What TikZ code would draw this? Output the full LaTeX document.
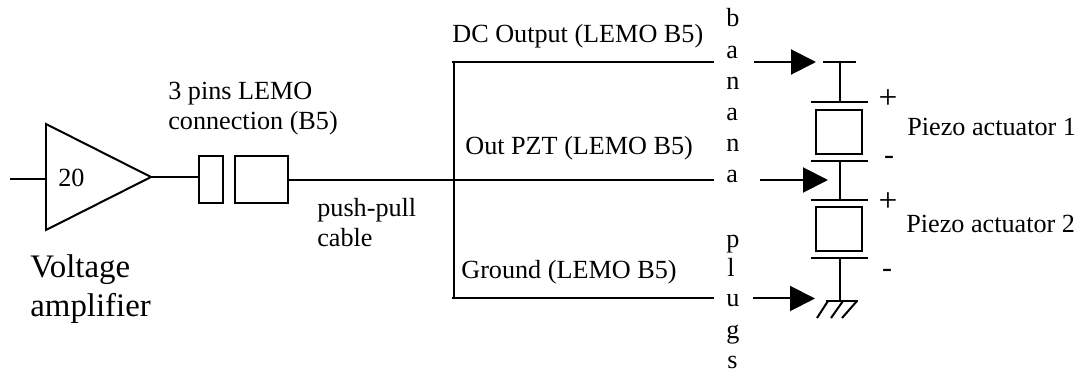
\documentclass[tikz,border=0pt]{standalone}
\usepackage{fontspec}
\setmainfont{Liberation Serif}
\usetikzlibrary{arrows.meta}
\tikzset{
  label/.style={inner sep=0pt,anchor=base west,font=\fontsize{14.9pt}{17.6pt}\selectfont},
  biglabel/.style={inner sep=0pt,anchor=base west,align=left,font=\fontsize{18.7pt}{22.2pt}\selectfont},
  sign/.style={inner sep=0pt,anchor=center,font=\fontsize{19pt}{20pt}\selectfont},
  minussign/.style={inner sep=0pt,anchor=center,font=\fontsize{17pt}{20pt}\selectfont},
  wire/.style={line width=.04cm},
  plug/.style={line width=.04cm,-{Triangle[length=.5cm,width=.5cm]}},
  lemo/.style={draw,line width=.04cm,minimum height=.94cm,inner sep=0pt},
  piezo/.style={draw,line width=.04cm,minimum width=.92cm,minimum height=.88cm,inner sep=0pt}
}
\begin{document}
\begin{tikzpicture}[x=.02cm,y=-.02cm]
\useasboundingbox (0,0) rectangle (1086,371);
% amplifier
\coordinate (in) at (10,179);
\coordinate (intri) at (46,179);
\coordinate (tritop) at (46,124);
\coordinate (tribot) at (46,230);
\coordinate (triout) at (151,177);
\draw[wire] (tritop) -- (triout) -- (tribot) -- cycle;
\draw[wire] (in) -- (intri);
\node[label] (gain) at (58,187) {20};
\node[biglabel] (amplabel) at (30,317) {Voltage\\amplifier};
% connector
\node[lemo,minimum width=.48cm] (lemoa) at (211,179.5) {};
\node[lemo,minimum width=1.06cm] (lemob) at (261.5,179.5) {};
\node[label,align=left] (lemolabel) at (168,130) {3 pins LEMO\\connection (B5)};
\node[label,align=left] (cablelabel) at (317,247) {push-pull\\cable};
\draw[wire] (triout) -- (lemoa.west |- triout);
% bus
\coordinate (bustop) at (454,61);
\coordinate (busmid) at (454,180);
\coordinate (busbot) at (454,299);
\coordinate (starttop) at (452,62);
\coordinate (startbot) at (452,298);
\coordinate (endtop) at (714,62);
\coordinate (endmid) at (714,180);
\coordinate (endbot) at (714,298);
\draw[wire] (lemob.east |- busmid) -- (endmid);
\draw[wire] (bustop) -- (busbot);
\draw[wire] (starttop) -- (endtop);
\draw[wire] (startbot) -- (endbot);
\node[label] (dclabel) at (452,43) {DC Output (LEMO B5)};
\node[label] (outlabel) at (465,155) {Out PZT (LEMO B5)};
\node[label] (gndlabel) at (461,279) {Ground (LEMO B5)};
% banana plugs
\node[label] (b1) at (726,27) {b};
\node[label] (b2) at (726,59) {a};
\node[label] (b3) at (726,90) {n};
\node[label] (b4) at (726,121) {a};
\node[label] (b5) at (726,152) {n};
\node[label] (b6) at (726,183) {a};
\node[label] (b7) at (726,248) {p};
\node[label] (b8) at (727,277) {l};
\node[label] (b9) at (726,307) {u};
\node[label] (b10) at (726,338) {g};
\node[label] (b11) at (727,369) {s};
\coordinate (plugatail) at (754,62);
\coordinate (plugahead) at (816,62);
\coordinate (plugbtail) at (760,180);
\coordinate (plugbhead) at (828,180);
\coordinate (plugctail) at (753,298.5);
\coordinate (plugchead) at (815,298.5);
\draw[plug] (plugatail) -- (plugahead);
\draw[plug] (plugbtail) -- (plugbhead);
\draw[plug] (plugctail) -- (plugchead);
% piezo stack
\node[piezo] (pzta) at (839,132) {};
\node[piezo] (pztb) at (839,229) {};
\coordinate (topl) at (823,62);
\coordinate (topr) at (856,62);
\coordinate (topm) at (840,62);
\coordinate (plateal) at (811,102);
\coordinate (platear) at (868,102);
\coordinate (plateam) at (840,102);
\coordinate (platebl) at (811,161);
\coordinate (platebr) at (868,161);
\coordinate (platebm) at (840,161);
\coordinate (platecl) at (811,200);
\coordinate (platecr) at (868,200);
\coordinate (platecm) at (840,200);
\coordinate (platedl) at (811,258);
\coordinate (platedr) at (868,258);
\coordinate (platedm) at (840,258);
\coordinate (gndm) at (840,301);
\coordinate (gndl) at (826,301);
\coordinate (gndr) at (858,301);
\draw[wire] (topl) -- (topr);
\draw[wire] (topm) -- (plateam);
\draw[wire] (plateal) -- (platear);
\draw[wire] (platebl) -- (platebr);
\draw[wire] (platebm) -- (platecm);
\draw[wire] (platecl) -- (platecr);
\draw[wire] (platedl) -- (platedr);
\draw[wire] (platedm) -- (gndm);
\draw[wire] (gndl) -- (gndr);
\draw[wire] (gndl) +(2,0) -- +(-9,17);
\draw[wire] (gndm) +(3,0) -- +(-9,17);
\draw[wire] (gndr) +(-1,0) -- +(-16,17);
\node[sign] (plusa) at (888,99) {+};
\node[minussign] (minusa) at (889,160) {-};
\node[sign] (plusb) at (888,202) {+};
\node[minussign] (minusb) at (887,273) {-};
\node[label] (pztalabel) at (907,136) {Piezo actuator 1};
\node[label] (pztblabel) at (906,233) {Piezo actuator 2};
\end{tikzpicture}
\end{document}
